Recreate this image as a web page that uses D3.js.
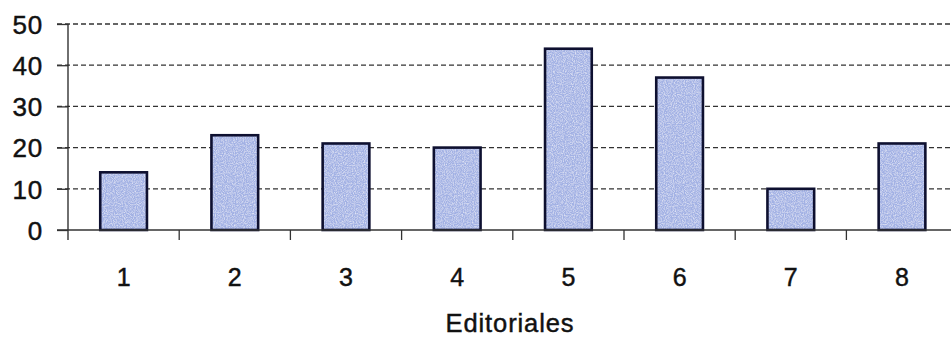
<!DOCTYPE html>
<html>
<head>
<meta charset="utf-8">
<script src="https://cdn.jsdelivr.net/npm/d3@7"></script>
<style>
  html, body { margin: 0; padding: 0; background: #fff; }
  svg { display: block; }
  text { font-family: "Liberation Sans", Arial, sans-serif; fill: #111; stroke: #111; stroke-width: 0.45px; }
</style>
</head>
<body>
<div id="chart"></div>
<script>
// Number of items per publisher
const categories = ["1", "2", "3", "4", "5", "6", "7", "8"];
const values = [14, 23, 21, 20, 44, 37, 10, 21];
const yTicks = [0, 10, 20, 30, 40, 50];
const xTitle = "Editoriales";

const W = 951, H = 340;
const plotLeft = 68, plotTop = 24, plotBottom = 230;
const bandW = 111.2;

const svg = d3.select("#chart").append("svg")
  .attr("width", W).attr("height", H);

// speckled texture for the bar fill
const defs = svg.append("defs");
const f = defs.append("filter").attr("id", "speckle")
  .attr("x", 0).attr("y", 0).attr("width", 1).attr("height", 1);
f.append("feTurbulence").attr("type", "fractalNoise")
  .attr("baseFrequency", 0.9).attr("numOctaves", 2).attr("seed", 4).attr("result", "noise");
f.append("feColorMatrix").attr("in", "noise").attr("type", "matrix")
  .attr("values", "0 0 0 0 1  0 0 0 0 1  0 0 0 0 1  1.2 0 0 0 -0.45").attr("result", "spots");
f.append("feComposite").attr("in", "spots").attr("in2", "SourceGraphic")
  .attr("operator", "in").attr("result", "spotsIn");
f.append("feMerge").selectAll("feMergeNode")
  .data(["SourceGraphic", "spotsIn"]).join("feMergeNode").attr("in", d => d);

const x = d3.scaleBand()
  .domain(categories)
  .range([plotLeft, plotLeft + bandW * categories.length])
  .paddingInner(0.58).paddingOuter(0.29);

const y = d3.scaleLinear().domain([0, 50]).range([plotBottom, plotTop]);

// dashed gridlines
svg.append("g").selectAll("line")
  .data(yTicks.filter(d => d > 0))
  .join("line")
  .attr("x1", plotLeft - 11).attr("x2", W)
  .attr("y1", d => y(d)).attr("y2", d => y(d))
  .attr("stroke", "#333").attr("stroke-width", 1.3)
  .attr("stroke-dasharray", "5,3");

// y axis
const yAxis = svg.append("g")
  .attr("transform", `translate(${plotLeft},0)`)
  .call(d3.axisLeft(y).tickValues(yTicks).tickSize(11).tickPadding(14).tickFormat(d3.format("d")));
yAxis.select(".domain").attr("d", `M0,${plotTop}V${plotBottom + 10}`)
  .attr("stroke", "#222").attr("stroke-width", 1.3);
yAxis.selectAll(".tick line").attr("stroke", "#333").attr("stroke-width", 1.3);
yAxis.selectAll(".tick text")
  .attr("font-size", 26).attr("font-family", "Liberation Sans, Arial, sans-serif")
  .attr("letter-spacing", 0.8)
  .attr("fill", "#111").attr("dy", "0.36em");

// bars
svg.append("g").selectAll("rect")
  .data(values)
  .join("rect")
  .attr("x", (d, i) => x(categories[i]))
  .attr("width", x.bandwidth())
  .attr("y", d => y(d))
  .attr("height", d => y(0) - y(d))
  .attr("fill", "#a2b1e4")
  .attr("filter", "url(#speckle)");
svg.append("g").selectAll("rect")
  .data(values)
  .join("rect")
  .attr("x", (d, i) => x(categories[i]))
  .attr("width", x.bandwidth())
  .attr("y", d => y(d))
  .attr("height", d => y(0) - y(d))
  .attr("fill", "none")
  .attr("stroke", "#0e1030").attr("stroke-width", 2.6);

// x axis
const boundaries = d3.range(categories.length).map(i => plotLeft + bandW * i);
const xg = svg.append("g");
xg.append("line")
  .attr("x1", plotLeft - 11).attr("x2", W)
  .attr("y1", plotBottom).attr("y2", plotBottom)
  .attr("stroke", "#333").attr("stroke-width", 1.3);
xg.selectAll("line.tk")
  .data(boundaries.slice(1))
  .join("line").attr("class", "tk")
  .attr("x1", d => d).attr("x2", d => d)
  .attr("y1", plotBottom).attr("y2", plotBottom + 10)
  .attr("stroke", "#333").attr("stroke-width", 1.3);
xg.selectAll("text")
  .data(categories)
  .join("text")
  .attr("x", d => x(d) + x.bandwidth() / 2)
  .attr("y", 286)
  .attr("text-anchor", "middle")
  .attr("font-size", 25)
  .text(d => d);

svg.append("text")
  .attr("x", 510).attr("y", 332)
  .attr("text-anchor", "middle")
  .attr("font-size", 25.5)
  .attr("letter-spacing", 0.9)
  .text(xTitle);
</script>
</body>
</html>
